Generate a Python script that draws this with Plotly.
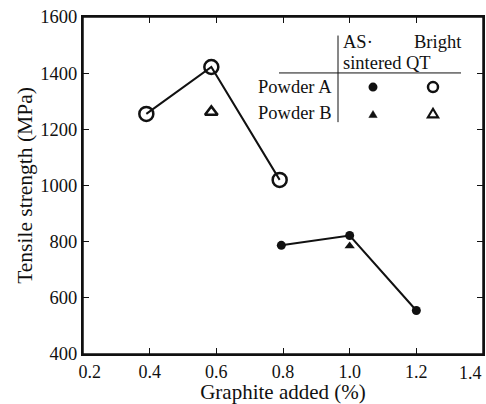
import plotly.graph_objects as go

# Data
graphite_qt_a = [0.39, 0.585, 0.79]
strength_qt_a = [1255, 1422, 1020]
graphite_qt_b = [0.585]
strength_qt_b = [1262]
graphite_as_a = [0.795, 1.0, 1.2]
strength_as_a = [787, 822, 555]
graphite_as_b = [1.0]
strength_as_b = [785]

x_ticks = [0.2, 0.4, 0.6, 0.8, 1.0, 1.2, 1.4]
NB = "\u00a0"
x_tick_labels = [NB * 3 + "0.2", "0.4", "0.6", "0.8", "1.0", "1.2", ""]
x_last_label = "1.4"
y_ticks = [400, 600, 800, 1000, 1200, 1400, 1600]

FONT = "Liberation Serif, Times New Roman, serif"
BLACK = "#111111"

fig = go.Figure()

fig.add_trace(go.Scatter(x=graphite_qt_a, y=strength_qt_a, mode="lines+markers",
                         line=dict(color=BLACK, width=2),
                         marker=dict(symbol="circle-open", size=14, color=BLACK, line=dict(width=2.5)),
                         showlegend=False))
fig.add_trace(go.Scatter(x=graphite_qt_b, y=strength_qt_b, mode="markers",
                         marker=dict(symbol="triangle-up-open", size=11, color=BLACK, line=dict(width=2.5)),
                         showlegend=False))
fig.add_trace(go.Scatter(x=graphite_as_a, y=strength_as_a, mode="lines+markers",
                         line=dict(color=BLACK, width=2),
                         marker=dict(symbol="circle", size=9, color=BLACK),
                         showlegend=False))
fig.add_trace(go.Scatter(x=graphite_as_b, y=strength_as_b, mode="markers",
                         marker=dict(symbol="triangle-up", size=9, color=BLACK),
                         showlegend=False))

ann = []
def txt(x, y, s, xanchor="left"):
    ann.append(dict(x=x, y=y, xref="paper", yref="paper", text=s, showarrow=False,
                    xanchor=xanchor, yanchor="middle", font=dict(family=FONT, size=18.5, color=BLACK)))

txt(0.627, 0.792, "Powder A", "right")
txt(0.627, 0.715, "Powder B", "right")
txt(0.645, 0.925, "AS·")
txt(0.645, 0.864, "sintered")
txt(0.822, 0.925, "Bright")
txt(0.803, 0.864, "QT")

# last x tick label, kept inside the page
ann.append(dict(x=x_ticks[-1], y=0, xref="x", yref="paper", text=x_last_label, showarrow=False,
                xanchor="right", yanchor="top", yshift=-7, xshift=1,
                font=dict(family=FONT, size=18, color=BLACK)))

shapes = [
    dict(type="line", xref="paper", yref="paper", x0=0.6375, x1=0.6375, y0=0.688, y1=0.945,
         line=dict(color=BLACK, width=1)),
    dict(type="line", xref="paper", yref="paper", x0=0.49, x1=0.945, y0=0.834, y1=0.834,
         line=dict(color=BLACK, width=1)),
    # frame (top and right)
    dict(type="rect", xref="paper", yref="paper", x0=0, x1=1, y0=0, y1=1,
         line=dict(color=BLACK, width=1.5), fillcolor="rgba(0,0,0,0)", layer="above"),
]

# legend-table key symbols (pixel-sized shapes anchored in paper coords)
def key_circle(xa, ya, r, filled):
    shapes.append(dict(type="circle", xref="paper", yref="paper", xsizemode="pixel", ysizemode="pixel",
                       xanchor=xa, yanchor=ya, x0=-r, x1=r, y0=-r, y1=r,
                       fillcolor=BLACK if filled else "rgba(0,0,0,0)",
                       line=dict(color=BLACK, width=0 if filled else 2.5)))

def key_tri(xa, ya, h, filled):
    w = h * 0.6
    path = f"M {-w},{-h/2} L {w},{-h/2} L 0,{h/2} Z"
    shapes.append(dict(type="path", xref="paper", yref="paper", xsizemode="pixel", ysizemode="pixel",
                       xanchor=xa, yanchor=ya, path=path,
                       fillcolor=BLACK if filled else "rgba(0,0,0,0)",
                       line=dict(color=BLACK, width=0.5 if filled else 2.2)))

key_circle(0.725, 0.792, 4.5, True)
key_circle(0.875, 0.792, 5.0, False)
key_tri(0.725, 0.712, 7, True)
key_tri(0.875, 0.715, 8.5, False)

fig.update_layout(
    width=486, height=404,
    margin=dict(l=83, r=3, t=17, b=50),
    paper_bgcolor="white", plot_bgcolor="white",
    font=dict(family=FONT, size=18, color=BLACK),
    annotations=ann, shapes=shapes,
    xaxis=dict(range=[0.2, 1.4], tickvals=x_ticks, ticktext=x_tick_labels,
               ticks="inside", ticklen=6, tickwidth=1.2, tickcolor=BLACK,
               showline=True, linecolor=BLACK, linewidth=2, mirror="ticks",
               showgrid=False, zeroline=False, ticklabeloverflow="allow", automargin=False,
               tickfont=dict(family=FONT, size=18),
               title=dict(text="Graphite added (%)", font=dict(family=FONT, size=21), standoff=7)),
    yaxis=dict(range=[400, 1600], tickvals=y_ticks,
               ticks="inside", ticklen=6, tickwidth=1.2, tickcolor=BLACK,
               showline=True, linecolor=BLACK, linewidth=2, mirror="ticks",
               showgrid=False, zeroline=False, ticklabeloverflow="allow", automargin=False,
               tickfont=dict(family=FONT, size=18.5),
               title=dict(text="Tensile strength (MPa)", font=dict(family=FONT, size=21.5), standoff=2)),
)

fig.write_html("out.html")
